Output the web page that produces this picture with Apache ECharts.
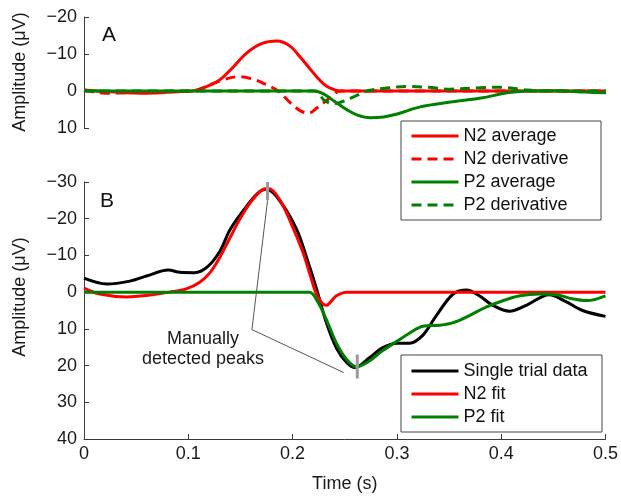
<!DOCTYPE html>
<html><head><meta charset="utf-8">
<script src="https://cdn.jsdelivr.net/npm/echarts@6/dist/echarts.min.js"></script>
<style>html,body{margin:0;padding:0;background:#fff}#c{width:621px;height:498px}</style>
</head><body><div id="c"></div>
<script>
const FONT = '"Liberation Sans", Arial, Helvetica, sans-serif';

// ---------- Panel A ----------
const n2AvgT = [0, 0.03, 0.06, 0.09, 0.104, 0.12, 0.13, 0.143, 0.156, 0.17, 0.185, 0.197, 0.207, 0.215, 0.223, 0.23, 0.236, 0.245, 0.5];
const n2AvgV = [-0.3, 0.3, 0.6, 0.2, 0, -1.5, -3, -6.5, -10.3, -12.8, -13.5, -12.2, -9.2, -6.5, -3.8, -1.8, -0.8, 0, 0];

const n2DerT = [0, 0.02, 0.05, 0.08, 0.104, 0.118, 0.13, 0.149, 0.162, 0.171, 0.186, 0.197, 0.207, 0.215, 0.223, 0.229, 0.237, 0.245, 0.5];
const n2DerV = [-0.3, 0.6, 0.4, 0.1, 0, -1.3, -2.7, -3.9, -3.2, -2.2, 0, 3, 5.3, 6, 4.6, 3.3, 1.5, 0, 0];

const p2AvgT = [0, 0.22, 0.228, 0.236, 0.244, 0.252, 0.262, 0.274, 0.287, 0.3, 0.322, 0.351, 0.382, 0.405, 0.424, 0.45, 0.48, 0.5];
const p2AvgV = [0, 0, 0.6, 2, 3.6, 5.1, 6.5, 7.2, 7, 6.2, 4.3, 3, 1.8, 0.5, 0, -0.1, 0.3, 0.5];

const p2DerT = [0, 0.222, 0.23, 0.239, 0.247, 0.255, 0.263, 0.271, 0.29, 0.309, 0.33, 0.35, 0.38, 0.40, 0.42, 0.44, 0.5];
const p2DerV = [0, 0, 2.5, 3.4, 2.9, 2, 1, 0, -0.8, -1.2, -1, -0.5, -0.9, -1, -0.4, 0, 0];

// ---------- Panel B ----------
const trialT = [0, 0.022, 0.044, 0.06, 0.081, 0.092, 0.106, 0.118, 0.13, 0.14, 0.153, 0.166, 0.175, 0.19, 0.204, 0.213, 0.223, 0.232, 0.242, 0.252, 0.26, 0.274, 0.286, 0.3, 0.312, 0.325, 0.338, 0.354, 0.367, 0.379, 0.392, 0.408, 0.424, 0.446, 0.462, 0.478, 0.5];
const trialV = [-3.8, -2.2, -3, -4.4, -6, -5.4, -5.3, -6.8, -11, -17, -22.3, -26.8, -28, -24, -17, -9.8, -0.9, 8, 15.2, 19.2, 20.5, 17.8, 15.2, 13.9, 13.9, 11.7, 6.3, 0.5, -0.6, 1, 3.6, 5.2, 3.6, 0.7, 2.6, 5, 6.6];

const n2FitT = [0, 0.015, 0.041, 0.06, 0.082, 0.098, 0.111, 0.121, 0.13, 0.14, 0.149, 0.159, 0.17, 0.177, 0.188, 0.2, 0.21, 0.218, 0.224, 0.232, 0.242, 0.252, 0.5];
const n2FitV = [-1.1, 0.5, 1.3, 0.9, 0, -0.9, -2.7, -5.4, -9.4, -14.8, -19.7, -24.2, -27.7, -28.2, -25, -17.8, -10.8, -3.6, 1.2, 3.6, 1, 0, 0];

const p2FitT = [0, 0.216, 0.224, 0.232, 0.242, 0.252, 0.261, 0.274, 0.286, 0.3, 0.312, 0.325, 0.341, 0.354, 0.37, 0.386, 0.401, 0.418, 0.437, 0.453, 0.468, 0.482, 0.5];
const p2FitV = [0, 0, 2.6, 7.2, 13.9, 18.4, 20.3, 18.7, 16, 13.4, 11.2, 9.3, 9, 8.3, 6.3, 4, 2.4, 1, 0.5, 0.7, 1.8, 2.3, 1];

// Manually detected peaks (time, amplitude range of marker)
const peakT = [0.176, 0.262];
const peakLo = [-30, 17];
const peakHi = [-25, 23.5];
const leaderOrigin = [0.161, 10.2];
const leaderEnds = [[0.176, -25], [0.249, 21.9]];

const legendA = ['N2 average', 'N2 derivative', 'P2 average', 'P2 derivative'];
const legendB = ['Single trial data', 'N2 fit', 'P2 fit'];

const RED = '#ff0000', GREEN = '#008000', BLACK = '#000000';
const AXC = '#3a3a3a';

const pairs = (t, v) => t.map((x, i) => [x, v[i]]);
const minus = v => String(v).replace('-', '\u2212');

function curve(name, t, v, color, grid, dashed) {
  return {
    name, type: 'line', xAxisIndex: grid, yAxisIndex: grid,
    data: pairs(t, v), smooth: 0.35, showSymbol: false, symbol: 'none',
    lineStyle: { color, width: 3, type: dashed ? [10, 6] : 'solid' },
    itemStyle: { color }, z: 3, silent: true, animation: false
  };
}

function yAxisDef(grid, min, max) {
  return {
    type: 'value', gridIndex: grid, inverse: true, min, max, interval: 10,
    axisLine: { show: true, onZero: false, lineStyle: { color: AXC, width: 1 } },
    axisTick: { show: true, inside: true, length: 5, lineStyle: { color: AXC } },
    splitLine: { show: false },
    axisLabel: { color: '#1a1a1a', fontSize: 18, fontFamily: FONT, margin: 7, formatter: minus }
  };
}

const chart = echarts.init(document.getElementById('c'), null, { renderer: 'canvas' });

const series = [
  curve('N2 average', n2AvgT, n2AvgV, RED, 0, false),
  curve('N2 derivative', n2DerT, n2DerV, RED, 0, true),
  curve('P2 average', p2AvgT, p2AvgV, GREEN, 0, false),
  curve('P2 derivative', p2DerT, p2DerV, GREEN, 0, true),
  curve('Single trial data', trialT, trialV, BLACK, 1, false),
  curve('N2 fit', n2FitT, n2FitV, RED, 1, false),
  curve('P2 fit', p2FitT, p2FitV, GREEN, 1, false)
];
leaderEnds.forEach((e, i) => series.push({
  name: 'leader' + i, type: 'line', xAxisIndex: 1, yAxisIndex: 1,
  data: [leaderOrigin, e], showSymbol: false, symbol: 'none', silent: true, animation: false,
  lineStyle: { color: '#555', width: 1 }, z: 5
}));
peakT.forEach((t, i) => series.push({
  name: 'peak' + i, type: 'line', xAxisIndex: 1, yAxisIndex: 1,
  data: [[t, peakLo[i]], [t, peakHi[i]]], showSymbol: false, symbol: 'none', silent: true, animation: false,
  lineStyle: { color: '#9a9a9a', width: 3 }, z: 6
}));

function legendDef(top, names) {
  return {
    orient: 'vertical', left: 410, top, itemWidth: 47, itemHeight: 14, itemGap: 5, padding: 0,
    selectedMode: false, z: 8,
    itemStyle: { color: 'rgba(0,0,0,0)', borderColor: 'rgba(0,0,0,0)', borderWidth: 0, opacity: 0 },
    lineStyle: { width: 3 },
    textStyle: { fontSize: 18, fontFamily: FONT, color: '#111', lineHeight: 18 },
    data: names
  };
}

chart.setOption({
  animation: false,
  backgroundColor: '#fff',
  grid: [
    { left: 84, top: 17, width: 522, height: 111 },
    { left: 84, top: 182, width: 522, height: 261 }
  ],
  xAxis: [
    { type: 'value', gridIndex: 0, min: 0, max: 0.5, interval: 0.1, show: false },
    {
      type: 'value', gridIndex: 1, min: 0, max: 0.5, interval: 0.1,
      axisLine: { show: true, onZero: false, lineStyle: { color: AXC, width: 1 } },
      axisTick: { show: true, inside: true, length: 5, lineStyle: { color: AXC } },
      splitLine: { show: false },
      axisLabel: { color: '#1a1a1a', fontSize: 18, fontFamily: FONT, margin: 6,
        formatter: v => (v === 0 ? '0' : (+v).toFixed(1)) },
      name: 'Time (s)', nameLocation: 'middle', nameGap: 36,
      nameTextStyle: { fontSize: 18, fontFamily: FONT, color: '#1a1a1a' }
    }
  ],
  yAxis: [yAxisDef(0, -20, 10), yAxisDef(1, -30, 40)],
  legend: [legendDef(127, legendA), legendDef(362, legendB)],
  graphic: [
    { type: 'rect', shape: { x: 401, y: 121, width: 200, height: 99 }, style: { fill: '#fff', stroke: '#444', lineWidth: 1 }, z: 1, silent: true },
    { type: 'rect', shape: { x: 401, y: 355, width: 201, height: 77 }, style: { fill: '#fff', stroke: '#444', lineWidth: 1 }, z: 1, silent: true },
    { type: 'text', left: 102, top: 25, style: { text: 'A', fontSize: 21, fontFamily: FONT, fill: '#111' }, z: 20 },
    { type: 'text', left: 100, top: 191, style: { text: 'B', fontSize: 21, fontFamily: FONT, fill: '#111' }, z: 20 },
    { type: 'text', x: 20, y: 72, rotation: Math.PI / 2,
      style: { text: 'Amplitude (\u03bcV)', fontSize: 18, fontFamily: FONT, fill: '#1a1a1a', align: 'center', verticalAlign: 'middle' }, z: 20 },
    { type: 'text', x: 20, y: 297, rotation: Math.PI / 2,
      style: { text: 'Amplitude (\u03bcV)', fontSize: 18, fontFamily: FONT, fill: '#1a1a1a', align: 'center', verticalAlign: 'middle' }, z: 20 },
    { type: 'text', x: 203, y: 349,
      style: { text: 'Manually\ndetected peaks', fontSize: 18, lineHeight: 20, fontFamily: FONT, fill: '#1a1a1a', align: 'center', verticalAlign: 'middle' }, z: 20 }
  ],
  series
});
</script></body></html>
